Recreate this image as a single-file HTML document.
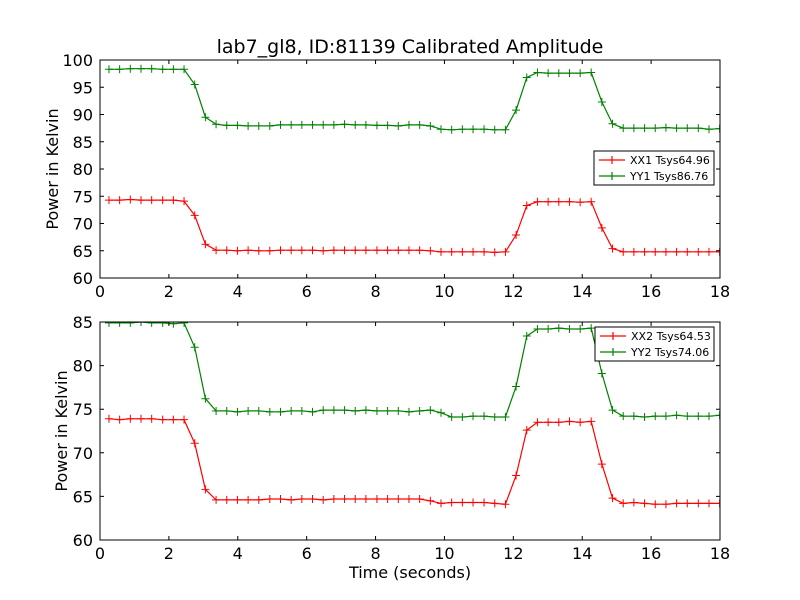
<!DOCTYPE html>
<html><head><meta charset="utf-8"><style>
body{margin:0;background:#fff;}
svg{display:block;font-family:"DejaVu Sans","Liberation Sans",sans-serif;}
</style></head><body>
<svg id="chart" width="800" height="600" viewBox="0 0 800 600">
<rect width="800" height="600" fill="#fff"/>
<text x="410" y="53" text-anchor="middle" font-size="19">lab7_gl8, ID:81139 Calibrated Amplitude</text>
<g id="p1"></g>
<g id="p2"></g>
</svg>
<script>
const times=[0.26,0.57,0.88,1.19,1.50,1.82,2.13,2.44,2.75,3.06,3.37,3.68,3.99,4.30,4.61,4.93,5.24,5.55,5.86,6.17,6.48,6.79,7.10,7.41,7.72,8.04,8.35,8.66,8.97,9.28,9.59,9.90,10.21,10.52,10.83,11.15,11.46,11.77,12.08,12.39,12.70,13.01,13.32,13.63,13.94,14.26,14.57,14.88,15.19,15.50,15.81,16.12,16.43,16.74,17.05,17.37,17.68,17.99];
const yy1=[98.3,98.3,98.4,98.4,98.4,98.3,98.3,98.3,95.5,89.5,88.2,88.0,88.0,87.9,87.9,87.9,88.1,88.1,88.1,88.1,88.1,88.1,88.2,88.1,88.1,88.0,88.0,87.9,88.1,88.1,87.9,87.3,87.2,87.3,87.3,87.3,87.2,87.2,90.8,96.8,97.7,97.6,97.6,97.6,97.6,97.7,92.3,88.3,87.5,87.5,87.5,87.5,87.6,87.5,87.5,87.5,87.3,87.4];
const xx1=[74.3,74.3,74.4,74.3,74.3,74.3,74.3,74.1,71.5,66.2,65.1,65.1,65.0,65.1,65.0,65.0,65.1,65.1,65.1,65.1,65.0,65.1,65.1,65.1,65.1,65.1,65.1,65.1,65.1,65.1,65.0,64.8,64.8,64.8,64.8,64.8,64.7,64.8,67.9,73.3,74.0,74.0,74.0,74.0,73.9,74.0,69.2,65.4,64.8,64.8,64.8,64.8,64.8,64.8,64.8,64.8,64.8,64.8];
const yy2=[84.9,84.9,84.9,85.0,84.9,84.9,84.8,84.9,82.1,76.2,74.8,74.8,74.7,74.8,74.8,74.7,74.7,74.8,74.8,74.7,74.9,74.9,74.9,74.8,74.9,74.8,74.8,74.8,74.7,74.8,74.9,74.6,74.1,74.1,74.2,74.2,74.1,74.1,77.6,83.4,84.2,84.2,84.3,84.2,84.2,84.3,79.1,74.9,74.2,74.2,74.1,74.2,74.2,74.3,74.2,74.2,74.2,74.3];
const xx2=[73.9,73.8,73.9,73.9,73.9,73.8,73.8,73.8,71.1,65.8,64.6,64.6,64.6,64.6,64.6,64.7,64.7,64.6,64.7,64.7,64.6,64.7,64.7,64.7,64.7,64.7,64.7,64.7,64.7,64.7,64.5,64.2,64.3,64.3,64.3,64.3,64.2,64.1,67.4,72.6,73.5,73.5,73.5,73.6,73.5,73.6,68.7,64.8,64.2,64.3,64.2,64.1,64.1,64.2,64.2,64.2,64.2,64.2];
const xTicks=[0,2,4,6,8,10,12,14,16,18];
const yTicks1=[60,65,70,75,80,85,90,95,100];
const yTicks2=[60,65,70,75,80,85];
const legend1=["XX1 Tsys64.96","YY1 Tsys86.76"];
const legend2=["XX2 Tsys64.53","YY2 Tsys74.06"];

const NS="http://www.w3.org/2000/svg";
function mk(tag,attrs,parent){const e=document.createElementNS(NS,tag);for(const k in attrs)e.setAttribute(k,attrs[k]);parent.appendChild(e);return e;}
const L=100,R=720;
const sx=v=>L+(v-0)/(18-0)*(R-L);

function panel(g,top,bot,ymin,ymax,yTicks,series,legend,leg,name,xlabel){
  const sy=v=>bot-(v-ymin)/(ymax-ymin)*(bot-top);
  const clipId='clip'+name;
  const cp=mk('clipPath',{id:clipId},g);
  mk('rect',{x:L,y:top,width:R-L,height:bot-top},cp);
  series.forEach((s,si)=>{
    const sg=mk('g',{'clip-path':'url(#'+clipId+')'},g);
    
    
    const pts=times.map((t,i)=>sx(t).toFixed(1)+','+sy(s.vals[i]).toFixed(1)).join(' ');
    const pl=mk('polyline',{points:pts,fill:'none',stroke:s.color,'stroke-width':1.2},sg);
    
    
    times.forEach((t,i)=>{
      const x=sx(t),y=sy(s.vals[i]);
      const m=mk('path',{d:`M${x-4},${y}H${x+4}M${x},${y-4}V${y+4}`,stroke:s.color,'stroke-width':1},sg);
      
      
    });
  });
  const fr=mk('rect',{x:L,y:top,width:R-L,height:bot-top,fill:'none',stroke:'#000','stroke-width':1},g);
  
  
  xTicks.forEach(v=>{
    const x=sx(v);
    mk('path',{d:`M${x},${bot}v-4M${x},${top}v4`,stroke:'#000'},g);
    const t=mk('text',{x:x,y:bot+19,'text-anchor':'middle','font-size':16},g);
    t.textContent=v;
    
    
  });
  yTicks.forEach(v=>{
    const y=sy(v);
    mk('path',{d:`M${L},${y}h4M${R},${y}h-4`,stroke:'#000'},g);
    const t=mk('text',{x:L-7,y:y+6,'text-anchor':'end','font-size':16},g);
    t.textContent=v;
    
    
  });
  const yl=mk('text',{transform:`translate(${leg.yl},${(top+bot)/2}) rotate(-90)`,'text-anchor':'middle','font-size':16},g);
  yl.textContent='Power in Kelvin';
  
  
  if(xlabel){
    const xl=mk('text',{x:410,y:578,'text-anchor':'middle','font-size':16},g);
    xl.textContent=xlabel;
    
    
  }
  const lg=mk('g',{},g);
  
  
  mk('rect',{x:leg.x,y:leg.y,width:leg.w,height:34,fill:'#fff',stroke:'#000','stroke-width':1},lg);
  legend.forEach((lab,i)=>{
    const c=series[i].color, y=leg.y+9+i*16;
    mk('path',{d:`M${leg.x+5},${y}h26M${leg.x+18},${y-4}v8`,stroke:c,'stroke-width':1.2},lg);
    const t=mk('text',{x:leg.x+36,y:y+4,'font-size':11},lg);
    t.textContent=lab;
    
    
  });
}
panel(document.getElementById('p1'),60,278,60,100,yTicks1,
  [{name:'xx1',vals:xx1,color:'#ff0000'},{name:'yy1',vals:yy1,color:'#008000'}],
  legend1,{x:594,y:151,w:120,yl:58},'1',null);
panel(document.getElementById('p2'),322,540,60,85,yTicks2,
  [{name:'xx2',vals:xx2,color:'#ff0000'},{name:'yy2',vals:yy2,color:'#008000'}],
  legend2,{x:595,y:327,w:119,yl:67},'2','Time (seconds)');
</script>
</body></html>
